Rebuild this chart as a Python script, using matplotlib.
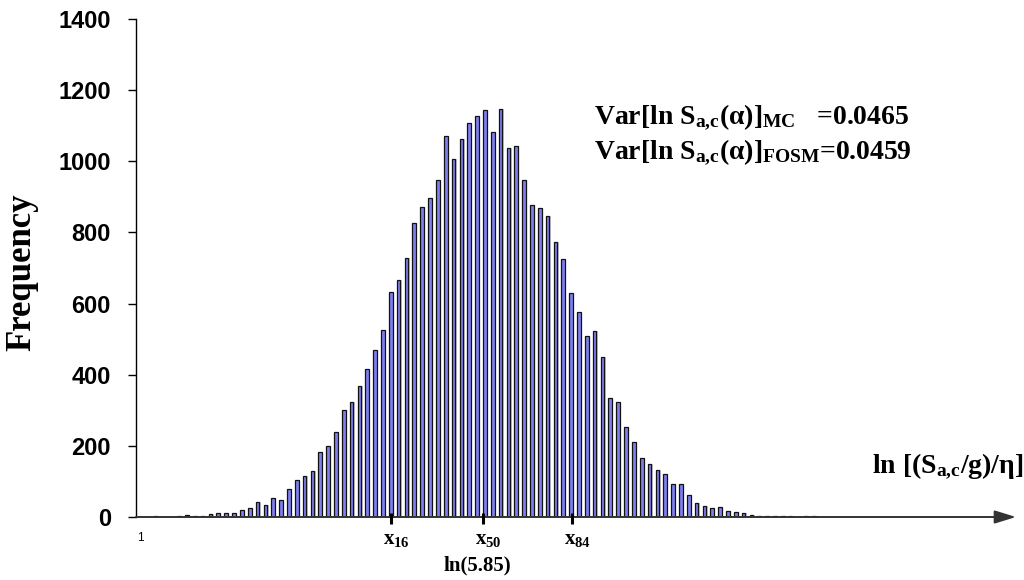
import matplotlib
matplotlib.use("Agg")
import matplotlib.pyplot as plt
import numpy as np

# Monte Carlo histogram of ln[(S_a,c/g)/eta]: counts per bin (bins numbered from 1)
frequency = [
    0, 0, 3, 0, 0, 2, 6, 4, 3, 8,
    10, 10, 10, 21, 25, 42, 35, 54, 49, 78,
    103, 116, 130, 183, 200, 240, 300, 324, 367, 415,
    470, 527, 633, 667, 729, 826, 871, 896, 946, 1070,
    1006, 1062, 1108, 1126, 1145, 1082, 1147, 1037, 1044, 946,
    876, 870, 846, 773, 726, 630, 576, 509, 524, 449,
    335, 322, 253, 211, 166, 149, 133, 122, 92, 92,
    62, 39, 31, 26, 28, 17, 13, 10, 5, 4,
    3, 3, 3, 2, 0, 2, 2,
]
n_categories = 100
y_ticks = [0, 200, 400, 600, 800, 1000, 1200, 1400]
first_bin_label = "1"

# percentile markers along the x axis (bin coordinates)
percentile_names = ["x$_{16}$", "x$_{50}$", "x$_{84}$"]
percentile_bins = [32.0, 43.7, 55.1]
median_text = "ln(5.85)"
median_bin = 43.0

var_mc = "0.0465"
var_fosm = "0.0459"

plt.rcParams["mathtext.fontset"] = "custom"
plt.rcParams["mathtext.rm"] = "Liberation Serif:bold"
plt.rcParams["mathtext.it"] = "Liberation Serif:bold"
plt.rcParams["mathtext.bf"] = "Liberation Serif:bold"

serif = dict(family="Liberation Serif", weight="bold")
sans = dict(family="Liberation Sans", weight="bold")

W, H = 1024, 580
fig = plt.figure(figsize=(W / 100, H / 100), dpi=100)
ax = fig.add_axes([136 / W, 63 / H, 784 / W, 498 / H])

idx = np.arange(len(frequency))
vals = np.array(frequency)
# soft drop shadow, then the bars
ax.bar(idx + 0.17, vals, width=0.47, color="#c4c4c4", linewidth=0, zorder=1)
ax.bar(idx, vals, width=0.47, color="#7f7ff0", edgecolor="#111111",
       linewidth=0.9, zorder=2)

ax.set_xlim(-0.5, n_categories - 0.5)
ax.set_ylim(0, 1400)
ax.set_yticks(y_ticks)
ax.set_yticklabels([str(v) for v in y_ticks], fontsize=17, **sans)
ax.tick_params(axis="y", direction="out", length=6, width=1, pad=12)
ax.set_xticks([0])
ax.set_xticklabels([first_bin_label], fontsize=8.5, family="Liberation Sans")
ax.tick_params(axis="x", length=0, pad=11)

for s in ("top", "right", "bottom"):
    ax.spines[s].set_visible(False)
ax.spines["left"].set_linewidth(1)

# horizontal axis drawn as an arrow
ax.annotate("", xy=(1016 / W, 63 / H), xytext=(136 / W, 63 / H),
            xycoords="figure fraction", textcoords="figure fraction",
            arrowprops=dict(arrowstyle="-|>,head_length=1.3,head_width=0.4",
                            lw=1.4, color="#333333", shrinkA=0, shrinkB=0))

fig.text(22 / W, 1 - 272 / H, "Frequency", rotation=90, ha="center",
         va="center", fontsize=25, **serif)

# percentile ticks and labels
trans = ax.get_xaxis_transform()
for name, b in zip(percentile_names, percentile_bins):
    ax.plot([b, b], [0.008, -0.014], transform=trans, color="black", lw=2.2,
            clip_on=False, zorder=3, solid_capstyle="butt")
    ax.annotate(name, xy=(b, 0), xycoords=trans, xytext=(4, -16),
                textcoords="offset points", ha="center", va="center",
                fontsize=15, **serif)
ax.annotate(median_text, xy=(median_bin, 0), xycoords=trans, xytext=(0, -35),
            textcoords="offset points", ha="center", va="center",
            fontsize=15, **serif)

fig.text(872 / W, 1 - 472 / H, "ln [(S$_{a{,}c}$/g)/η]", ha="left",
         va="baseline", fontsize=20, **serif)

fig.text(594 / W, 1 - 123 / H,
         "Var[ln S$_{a{,}c}$(α)]$_{MC}$   =" + var_mc,
         ha="left", va="baseline", fontsize=20, **serif)
fig.text(594 / W, 1 - 158 / H,
         "Var[ln S$_{a{,}c}$(α)]$_{FOSM}$=" + var_fosm,
         ha="left", va="baseline", fontsize=20, **serif)

fig.savefig("out.png", dpi=100)
